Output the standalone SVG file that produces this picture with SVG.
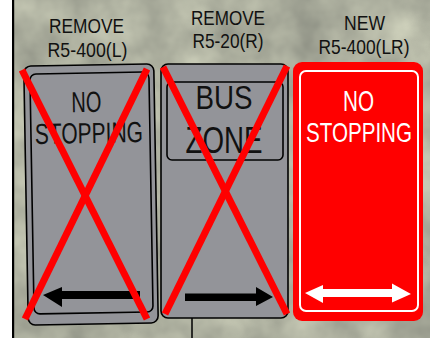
<svg xmlns="http://www.w3.org/2000/svg" width="430" height="338" viewBox="0 0 430 338">
<style>
.lbl{font-family:"Liberation Sans",Arial,sans-serif;font-size:21px;fill:#111;text-anchor:middle}
.sg{font-family:"Liberation Sans",Arial,sans-serif;text-anchor:middle}
.plate{fill:#939499;stroke:#000;stroke-width:1.6}
.x{stroke:#ff0000;stroke-width:7;stroke-linecap:butt;fill:none}
</style>
<defs>
<filter id="tex" x="0" y="0" width="100%" height="100%" color-interpolation-filters="sRGB">
<feTurbulence type="fractalNoise" baseFrequency="0.018" numOctaves="4" seed="7"/>
<feColorMatrix type="matrix" values="0.35 0 0 0 0.5  0.35 0 0 0 0.51  0.3 0 0 0 0.47  0 0 0 0 1"/>
</filter>
</defs>
<g id="background">
<rect x="0" y="0" width="430" height="338" filter="url(#tex)"/>
<rect x="0" y="0" width="12" height="338" fill="#fff"/>
<rect x="12" y="0" width="2.2" height="338" fill="#000"/>
</g>
<g id="sign-left">
<g transform="rotate(-1 90 194)">
<rect class="plate" x="26" y="65" width="130" height="259" rx="7"/>
<rect class="plate" x="32" y="73" width="119" height="240" rx="6" stroke-width="1.2"/>
<text class="sg" x="88" y="112" font-size="29" textLength="30" lengthAdjust="spacingAndGlyphs" fill="#111">NO</text>
<text class="sg" x="90" y="143" font-size="29" textLength="108" lengthAdjust="spacingAndGlyphs" fill="#111">STOPPING</text>
</g>
<polygon points="43,295 62,287 62,291 140,291 140,299 62,299 62,307" fill="#000"/>
<text class="lbl" x="86.5" y="33" textLength="75" lengthAdjust="spacingAndGlyphs">REMOVE</text>
<text class="lbl" x="87.5" y="57" textLength="80" lengthAdjust="spacingAndGlyphs">R5-400(L)</text>
</g>
<g id="sign-middle">
<rect class="plate" x="161" y="64" width="127" height="254" rx="7" stroke-width="2"/>
<rect x="167" y="82" width="116" height="78" rx="5" fill="none" stroke="#000" stroke-width="1.6"/>
<text class="sg" x="224" y="109" font-size="34" textLength="57" lengthAdjust="spacingAndGlyphs" fill="#111">BUS</text>
<text class="sg" x="224" y="153" font-size="37" textLength="77" lengthAdjust="spacingAndGlyphs" fill="#111">ZONE</text>
<polygon points="185,293.5 256,293.5 256,287 273,297 256,306 256,301 185,301" fill="#000"/>
<text class="lbl" x="228" y="25" textLength="74" lengthAdjust="spacingAndGlyphs">REMOVE</text>
<text class="lbl" x="228" y="48" textLength="71" lengthAdjust="spacingAndGlyphs">R5-20(R)</text>
</g>
<g id="sign-right">
<rect x="293" y="62" width="130" height="259" rx="9" fill="#ff0000"/>
<rect x="300" y="71" width="118" height="240" rx="6" fill="none" stroke="#fff" stroke-width="2"/>
<text class="sg" x="358.5" y="111" font-size="29" textLength="31" lengthAdjust="spacingAndGlyphs" fill="#fff">NO</text>
<text class="sg" x="359" y="142" font-size="28" textLength="106" lengthAdjust="spacingAndGlyphs" fill="#fff">STOPPING</text>
<polygon points="305,293 323,285 323,289 392,289 392,283.5 411,294 392,302.5 392,297 323,297 323,303" fill="#fff"/>
<text class="lbl" x="364.5" y="30" textLength="41" lengthAdjust="spacingAndGlyphs">NEW</text>
<text class="lbl" x="364" y="54" textLength="91" lengthAdjust="spacingAndGlyphs">R5-400(LR)</text>
</g>
<g id="connectors">
<line x1="192" y1="318" x2="192" y2="338" stroke="#000" stroke-width="1.5"/>
<line class="x" x1="22" y1="70" x2="147" y2="319"/>
<line class="x" x1="147" y1="69" x2="25" y2="319"/>
<line class="x" x1="163" y1="67" x2="287" y2="314"/>
<line class="x" x1="287" y1="66" x2="165" y2="314"/>
</g>
</svg>
